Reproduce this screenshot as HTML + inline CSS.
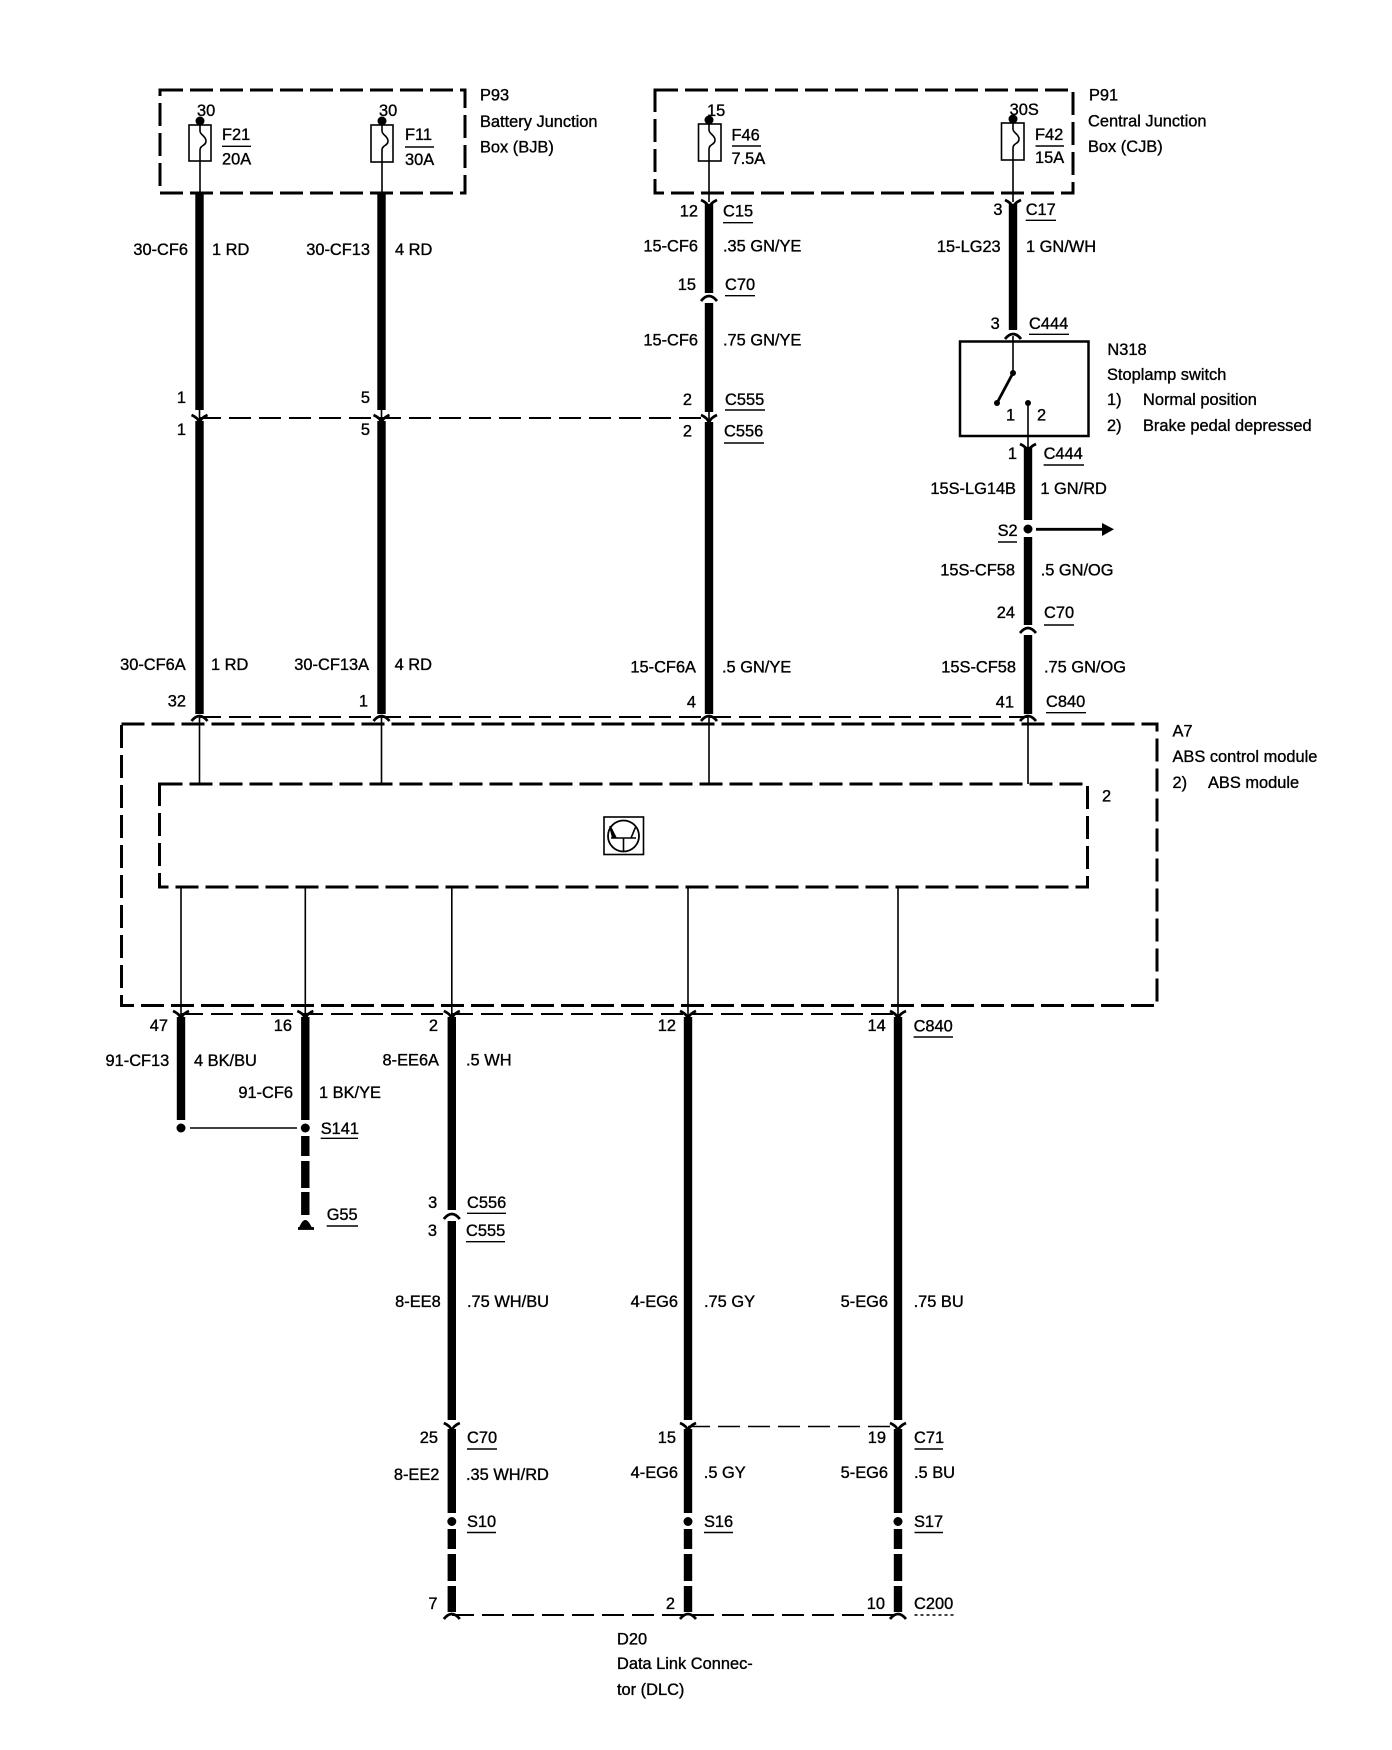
<!DOCTYPE html>
<html><head><meta charset="utf-8"><title>ABS wiring diagram</title>
<style>
html,body{margin:0;padding:0;background:#fff}
svg{display:block}
text{font-family:"Liberation Sans",sans-serif;font-size:16.4px;fill:#000;stroke:#000;stroke-width:.35px}
.e{text-anchor:end}
.w{stroke:#000;stroke-width:8.4;fill:none}
.t{stroke:#000;stroke-width:1.6;fill:none}
.u{stroke:#000;stroke-width:1.4;fill:none}
.b{stroke:#000;stroke-width:3;fill:none;stroke-dasharray:23 7}
.d{stroke:#000;stroke-width:2;fill:none;stroke-dasharray:22 8}
.c{stroke:#000;stroke-width:2.8;fill:none}
</style></head><body>
<svg width="1392" height="1750" viewBox="0 0 1392 1750" xmlns="http://www.w3.org/2000/svg">
<defs>
<path id="y" class="c" d="M-8 -3Q-1 0 0 5M8 -3Q1 0 0 5"/>
<path id="n" class="c" d="M-8 4Q0 -6 8 4"/>
</defs>
<rect width="1392" height="1750" fill="#fff"/>

<!-- dashed boxes -->
<rect class="b" x="160" y="90" width="305" height="103"/>
<rect class="b" x="655" y="90" width="418" height="103"/>
<rect class="b" x="121.500" y="724" width="1035.500" height="281.500"/>
<rect class="b" x="159.500" y="784" width="928" height="103"/>

<!-- thin dashed connector shells -->
<path class="d" d="M199 418H709"/>
<path class="d" d="M199 717H1028"/>
<path class="d" d="M181 1014H898"/>
<path class="d" style="stroke-width:1.500" d="M688 1426.500H898"/>
<path class="d" d="M452 1615H898"/>

<!-- fuses -->
<rect class="t" x="189" y="125" width="22" height="36"/>
<rect class="t" x="371" y="125" width="22" height="37"/>
<rect class="t" x="698.500" y="124" width="22.500" height="37"/>
<rect class="t" x="1001.500" y="123" width="22.500" height="37"/>
<path class="t" d="M200 125V131C200 135 206 136 206 141C206 146 200 145 200 150V192"/>
<path class="t" d="M382 125V131C382 135 388 136 388 141C388 146 382 145 382 150V192"/>
<path class="t" d="M709 124V130C709 134 715 135 715 140C715 145 709 144 709 149V202"/>
<path class="t" d="M1013 123V129C1013 133 1019 134 1019 139C1019 144 1013 143 1013 148V202"/>
<circle cx="200" cy="121" r="4.500"/><circle cx="382" cy="121" r="4.500"/>
<circle cx="709" cy="120" r="4.500"/><circle cx="1013" cy="119" r="4.500"/>

<!-- thick wires -->
<path class="w" d="M199.500 192V410M199.500 421V714"/>
<path class="w" d="M381.500 192V410M381.500 421V714"/>
<path class="w" d="M709 204V293M709 303V412M709 422V714"/>
<path class="w" d="M1013 204V330"/>
<path class="w" d="M1028 447V520M1028 537V625M1028 635V714"/>
<path class="w" d="M181 1017V1120"/>
<path class="w" d="M305.300 1017V1120M305.300 1136V1156M305.300 1161V1188M305.300 1192V1215"/>
<path class="w" d="M451.800 1017V1210M451.800 1221V1420M451.800 1429V1513M451.800 1529V1549M451.800 1554V1581M451.800 1586V1612"/>
<path class="w" d="M688 1017V1420M688 1429V1513M688 1529V1549M688 1554V1581M688 1586V1612"/>
<path class="w" d="M898 1017V1420M898 1429V1513M898 1529V1549M898 1554V1581M898 1586V1612"/>

<!-- Y connector marks -->
<path class="t" d="M199.500 410V420M381.500 410V420M709 410V420"/>
<use href="#y" x="199.500" y="418"/><use href="#y" x="381.500" y="418"/><use href="#y" x="709" y="418"/>
<use href="#y" x="709" y="203"/><use href="#y" x="1013" y="203"/><use href="#y" x="1028" y="447"/>
<use href="#y" x="181" y="1014"/><use href="#y" x="305.300" y="1014"/><use href="#y" x="451.800" y="1014"/>
<use href="#y" x="688" y="1014"/><use href="#y" x="898" y="1014"/>
<use href="#y" x="451.800" y="1426"/><use href="#y" x="688" y="1426"/><use href="#y" x="898" y="1426"/>
<!-- caps -->
<use href="#n" x="709" y="297"/><use href="#n" x="1013" y="335"/><use href="#n" x="1028" y="629"/>
<use href="#n" x="451.800" y="1215"/>
<use href="#n" x="199.500" y="717"/><use href="#n" x="381.500" y="717"/><use href="#n" x="709" y="717"/><use href="#n" x="1028" y="717"/>
<use href="#n" x="451.800" y="1615"/><use href="#n" x="688" y="1615"/><use href="#n" x="898" y="1615"/>

<!-- module pins -->
<path class="t" d="M199.500 716V784M381.500 716V784M709 716V784M1028 716V784"/>
<path class="t" d="M181 887V1016M305.300 887V1016M451.800 887V1016M688 887V1016M898 887V1016"/>

<!-- stoplamp switch -->
<rect x="960" y="341.500" width="128.500" height="94.500" fill="none" stroke="#000" stroke-width="2.500"/>
<path class="t" d="M1013 336V373"/>
<path class="c" d="M1013 373L997 403"/>
<circle cx="1013" cy="373" r="3"/><circle cx="997" cy="403" r="3"/><circle cx="1028" cy="403" r="3"/>
<path class="t" d="M1028 403V447"/>

<!-- S2 and arrow -->
<circle cx="1028" cy="529" r="4.500"/>
<path class="c" d="M1036 529.300H1103"/><path d="M1102 523L1114 529.300L1102 536Z"/>

<!-- S141 / ground -->
<circle cx="181" cy="1128" r="4.500"/><circle cx="305.300" cy="1128" r="4.500"/>
<path class="t" d="M190 1128H297"/>
<path d="M299 1228Q305 1212 312 1228Z"/><path class="c" d="M298 1228.500H314"/>

<!-- S10 16 17 -->
<circle cx="451.800" cy="1521.500" r="4.500"/><circle cx="688" cy="1521.500" r="4.500"/><circle cx="898" cy="1521.500" r="4.500"/>

<!-- control module icon -->
<rect x="604" y="817" width="39.500" height="37.500" fill="none" stroke="#000" stroke-width="1.600"/>
<circle cx="623.500" cy="836" r="15.500" fill="none" stroke="#000" stroke-width="1.800"/>
<path class="t" d="M623.500 838V851M611 838H636M616 838L610 826M631 838L636 826"/>
<path d="M609 826L617 838H612Z"/>

<!-- underlines -->
<g class="u">
<path d="M222 146.300H251M405 147H434M732 146H761M1035.500 146H1064"/>
<path d="M723 222.700H753M725 295.700H755M725 410H765M724 443H764"/>
<path d="M1025.700 220.300H1056M1029 334.300H1069M1043.600 465H1084M998 542H1017"/>
<path d="M1044 625H1074M1046 712.700H1086"/>
<path d="M913.600 1037H953M320.700 1138.300H358M326.700 1226H358"/>
<path d="M467 1213.300H506M466 1241.700H505"/>
<path d="M467 1449H497M914.500 1449H943M467 1532.500H496M704 1532.500H733M914.500 1532.500H943"/>
<path d="M914.500 1615H954" stroke-dasharray="3 3"/>
</g>

<!-- labels -->
<text x="480" y="100.700">P93</text><text x="480" y="127">Battery Junction</text><text x="480" y="152.700">Box (BJB)</text>
<text x="197" y="116">30</text><text x="379" y="116">30</text>
<text x="222" y="140">F21</text><text x="222" y="164.700">20A</text>
<text x="405" y="140">F11</text><text x="405" y="165">30A</text>
<text class="e" x="188" y="255">30-CF6</text><text x="212" y="255">1 RD</text>
<text class="e" x="370" y="255">30-CF13</text><text x="395" y="255">4 RD</text>

<text x="1089" y="100.700">P91</text><text x="1088" y="126.700">Central Junction</text><text x="1088" y="152">Box (CJB)</text>
<text x="707" y="116">15</text><text x="1009.600" y="115">30S</text>
<text x="731.500" y="140.700">F46</text><text x="731.500" y="164">7.5A</text>
<text x="1035" y="140">F42</text><text x="1035" y="163">15A</text>

<text class="e" x="698" y="216.700">12</text><text x="723" y="216.700">C15</text>
<text class="e" x="698" y="251.700">15-CF6</text><text x="723" y="251.700">.35 GN/YE</text>
<text class="e" x="696" y="290">15</text><text x="725" y="290">C70</text>
<text class="e" x="698" y="345.700">15-CF6</text><text x="723" y="345.700">.75 GN/YE</text>
<text class="e" x="692" y="405">2</text><text x="725" y="405">C555</text>
<text class="e" x="692" y="436.700">2</text><text x="724" y="436.700">C556</text>
<text class="e" x="186" y="403">1</text><text class="e" x="370" y="403">5</text>
<text class="e" x="186" y="435">1</text><text class="e" x="370" y="435">5</text>

<text class="e" x="1002.500" y="215">3</text><text x="1025.700" y="215">C17</text>
<text class="e" x="1000.700" y="252">15-LG23</text><text x="1026" y="252">1 GN/WH</text>
<text class="e" x="999.800" y="329">3</text><text x="1029" y="329">C444</text>
<text x="1107.400" y="355">N318</text><text x="1107" y="380">Stoplamp switch</text>
<text x="1107" y="405">1)</text><text x="1143" y="405">Normal position</text>
<text x="1107" y="431">2)</text><text x="1143" y="431">Brake pedal depressed</text>
<text x="1006" y="420.700">1</text><text x="1037" y="420.700">2</text>
<text class="e" x="1017" y="459">1</text><text x="1043.600" y="459">C444</text>
<text class="e" x="1016" y="494">15S-LG14B</text><text x="1040.400" y="494">1 GN/RD</text>
<text x="997.600" y="536">S2</text>
<text class="e" x="1015" y="575.700">15S-CF58</text><text x="1040.700" y="575.700">.5 GN/OG</text>
<text class="e" x="1015" y="618">24</text><text x="1044" y="618">C70</text>
<text class="e" x="1016" y="672.700">15S-CF58</text><text x="1044" y="672.700">.75 GN/OG</text>
<text class="e" x="1014" y="707.700">41</text><text x="1046" y="707">C840</text>

<text class="e" x="185.700" y="670">30-CF6A</text><text x="211" y="670">1 RD</text>
<text class="e" x="369" y="670">30-CF13A</text><text x="394.600" y="670">4 RD</text>
<text class="e" x="696" y="672.300">15-CF6A</text><text x="722" y="672.300">.5 GN/YE</text>
<text class="e" x="186" y="706.700">32</text><text class="e" x="368" y="706.700">1</text><text class="e" x="696" y="707.700">4</text>

<text x="1172.500" y="736.700">A7</text><text x="1172.500" y="762">ABS control module</text>
<text x="1172.500" y="788">2)</text><text x="1208" y="788">ABS module</text>
<text x="1102" y="801.700">2</text>

<text class="e" x="168" y="1031">47</text><text class="e" x="292" y="1031">16</text><text class="e" x="438" y="1031">2</text>
<text class="e" x="676" y="1031">12</text><text class="e" x="885.700" y="1031">14</text><text x="913.600" y="1031.700">C840</text>
<text class="e" x="169.300" y="1066">91-CF13</text><text x="194" y="1066">4 BK/BU</text>
<text class="e" x="293" y="1098">91-CF6</text><text x="319" y="1098">1 BK/YE</text>
<text class="e" x="439" y="1065.700">8-EE6A</text><text x="466" y="1065.700">.5 WH</text>
<text x="320.700" y="1134">S141</text><text x="326.700" y="1220">G55</text>
<text class="e" x="437.300" y="1208">3</text><text x="467" y="1208">C556</text>
<text class="e" x="437" y="1236">3</text><text x="466" y="1236">C555</text>

<text class="e" x="440.700" y="1307">8-EE8</text><text x="467" y="1307">.75 WH/BU</text>
<text class="e" x="678" y="1307">4-EG6</text><text x="704" y="1307">.75 GY</text>
<text class="e" x="888" y="1307">5-EG6</text><text x="913.600" y="1307">.75 BU</text>

<text class="e" x="438" y="1443">25</text><text x="467" y="1443">C70</text>
<text class="e" x="676" y="1443">15</text><text class="e" x="886" y="1443">19</text><text x="914" y="1443">C71</text>
<text class="e" x="439.400" y="1480">8-EE2</text><text x="466" y="1480">.35 WH/RD</text>
<text class="e" x="678" y="1478">4-EG6</text><text x="703.800" y="1478">.5 GY</text>
<text class="e" x="888" y="1478">5-EG6</text><text x="914" y="1478">.5 BU</text>
<text x="467" y="1527">S10</text><text x="704" y="1527">S16</text><text x="914" y="1527">S17</text>
<text class="e" x="437.500" y="1609">7</text><text class="e" x="675" y="1609">2</text><text class="e" x="885" y="1609">10</text><text x="914" y="1609">C200</text>
<text x="617" y="1644.300">D20</text><text x="617" y="1669">Data Link Connec-</text><text x="617" y="1695">tor (DLC)</text>
</svg>
</body></html>
